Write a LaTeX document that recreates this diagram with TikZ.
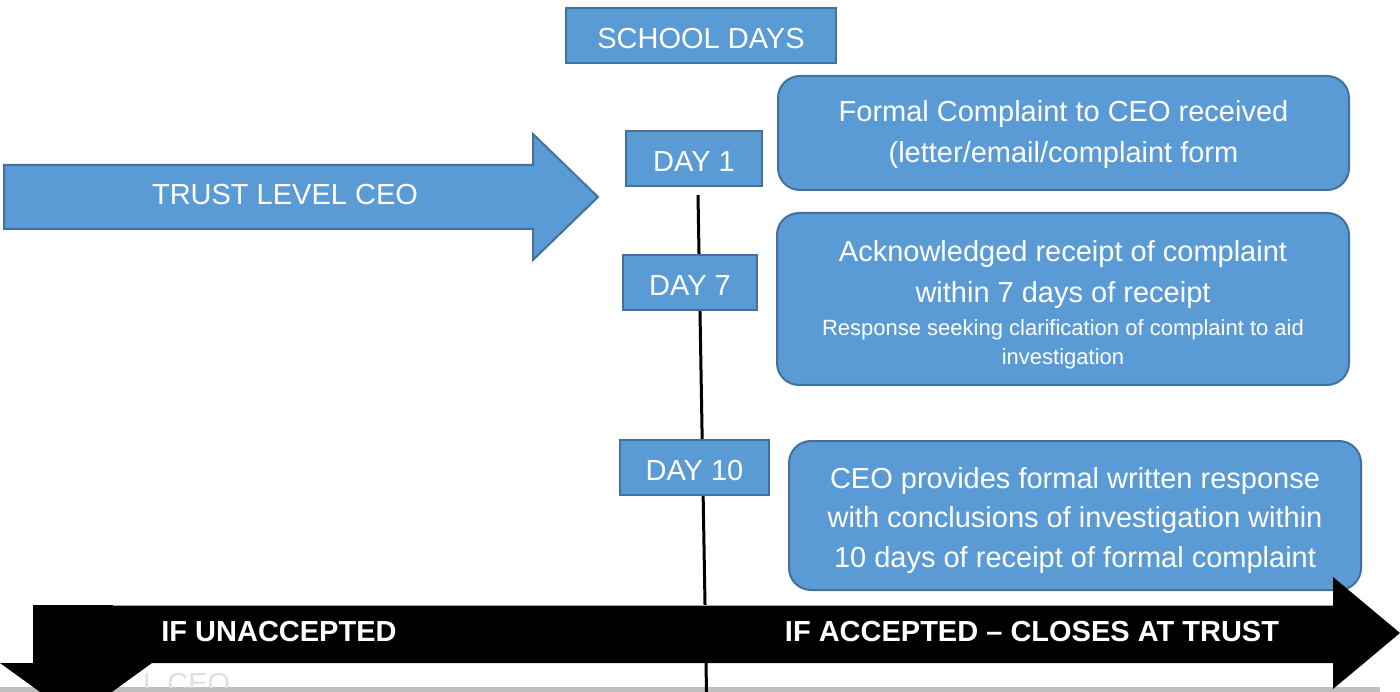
\documentclass[tikz,border=0pt]{standalone}
\usepackage{fontspec}
\setmainfont{Liberation Sans}
\definecolor{blueF}{HTML}{5B9BD5}
\definecolor{blueD}{HTML}{41719C}
\definecolor{stripG}{HTML}{BFBFBF}
\tikzset{
  daybox/.style={draw=blueD, fill=blueF, line width=2pt, text=white, inner sep=0pt,
    font=\fontsize{29}{35}\selectfont, text height=26pt, text depth=0pt},
  roundbox/.style={draw=blueD, fill=blueF, line width=2pt, inner sep=0pt,
    rounded corners=22pt},
  multitxt/.style={text=white, inner sep=0pt, align=center},
  big/.style={font=\fontsize{29}{40}\selectfont, text=white, inner sep=0pt,
    text height=21pt, text depth=6pt},
  small/.style={font=\fontsize{22}{29}\selectfont, text=white, inner sep=0pt,
    text height=16pt, text depth=5pt},
  bandtxt/.style={font=\fontsize{29}{35}\selectfont\bfseries, text=white, inner sep=0pt},
}
\begin{document}
\begin{tikzpicture}[x=1pt,y=-1pt]
\useasboundingbox (0,0) rectangle (1400,692);
% bottom gray strip
\fill[stripG] (0,687) rectangle (1380,692);
% ghost text
\begin{scope}
\clip (0,660) rectangle (400,687);
\node[anchor=base west, font=\fontsize{29}{35}\selectfont, text=black!12, inner sep=0pt] (ghost) at (143,693) {L CEO};
\end{scope}
% timeline
\coordinate (ltop) at (698,195);
\coordinate (lbot) at (706.5,692);
\draw[line width=3pt] (ltop) -- (lbot);
% day boxes
\node[daybox, minimum width=270pt, minimum height=55pt] (school) at (701,35.5) {SCHOOL DAYS};
\node[daybox, minimum width=136pt, minimum height=55pt] (day1) at (694,158.5) {DAY 1};
\node[daybox, minimum width=134pt, minimum height=55pt] (day7) at (690,282.5) {DAY 7};
\node[daybox, minimum width=149pt, minimum height=55pt] (day10) at (694.5,467.5) {DAY 10};
% rounded boxes
\node[roundbox, minimum width=571pt, minimum height=114pt] (b1) at (1063.5,133) {};
\node[multitxt, font=\fontsize{29}{41}\selectfont] (b1t) at ([yshift=-2pt]b1.center)
  {Formal Complaint to CEO received\\(letter/email/complaint form};
\node[roundbox, minimum width=572pt, minimum height=172pt] (b2) at (1063,299) {};
\node[big] (b2a) at (1063,254) {Acknowledged receipt of complaint};
\node[big] (b2b) at (1063,295) {within 7 days of receipt};
\node[small] (b2c) at (1063,330) {Response seeking clarification of complaint to aid};
\node[small] (b2d) at (1063,359) {investigation};
\node[roundbox, minimum width=572pt, minimum height=149pt] (b3) at (1075,515.5) {};
\node[multitxt, font=\fontsize{29}{40}\selectfont] (b3t) at ([yshift=-5pt]b3.center)
  {CEO provides formal written response\\with conclusions of investigation within\\10 days of receipt of formal complaint};
% big blue arrow
\draw[draw=blueD, fill=blueF, line width=2pt, line join=miter]
  (4,165) -- (533,165) -- (533,134) -- (598,197) -- (533,260) -- (533,229) -- (4,229) -- cycle;
\node[font=\fontsize{29}{35}\selectfont, text=white, inner sep=0pt] (trust) at (285,195) {TRUST LEVEL CEO};
% black band
\fill[black] (33,605) -- (1333,605) -- (1333,577) -- (1400,633) -- (1333,689) -- (1333,663)
  -- (152,663) -- (76,718) -- (0,663) -- (33,663) -- cycle;
\draw[black!35, line width=1pt] (113,605) -- (1333,605);
\node[bandtxt] (unacc) at (279,632) {IF UNACCEPTED};
\node[bandtxt] (acc) at (1032,632) {IF ACCEPTED – CLOSES AT TRUST};
\end{tikzpicture}
\end{document}
